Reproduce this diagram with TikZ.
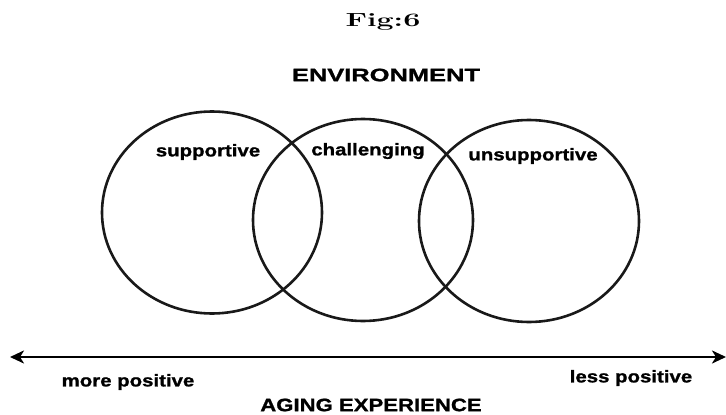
\documentclass[tikz,border=0pt]{standalone}
\usepackage{fontspec}
\usepackage{graphicx}
\usetikzlibrary{shapes.geometric,arrows.meta}
\newfontfamily\lblfont[FakeStretch=1.2,FakeBold=1.2]{Liberation Sans}
\newfontfamily\capfont[FakeStretch=1.23,FakeBold=1.2]{Liberation Sans}
\begin{document}
\begin{tikzpicture}[x=1pt,y=-1pt,
  ring/.style={draw=black!90,line width=2.6pt,ellipse,minimum width=220pt,minimum height=202pt,inner sep=0pt},
  lbl/.style={font=\lblfont\bfseries\fontsize{17}{20}\selectfont,inner sep=0pt,text=black},
  captxt/.style={font=\capfont\bfseries\fontsize{18}{21}\selectfont,inner sep=0pt,text=black},
  axis/.style={line width=2.6pt,{Stealth[length=14pt,width=13pt,inset=4pt]}-{Stealth[length=14pt,width=13pt,inset=4pt]}}]
\useasboundingbox (0,0) rectangle (726,415);
\node[inner sep=0pt] (fig) at (383,22) {\scalebox{1.6}[1]{\fontsize{19}{22}\selectfont\bfseries Fig:6}};
\node[inner sep=0pt] (env) at (386,75) {\scalebox{1.15}[1]{\capfont\bfseries\fontsize{18}{21}\selectfont ENVIRONMENT}};
\node[ring] (c1) at (212,212.5) {};
\node[ring] (c2) at (363,220) {};
\node[ring] (c3) at (529,221) {};
\node[lbl] (s) at (208,152) {supportive};
\node[lbl] (ch) at (368,151) {challenging};
\node[lbl] (u) at (533,156) {unsupportive};
\coordinate (L) at (10,357);
\coordinate (R) at (726,357);
\draw[axis] (L) -- (R);
\node[lbl] (mp) at (128,382) {more positive};
\node[lbl] (lp) at (631,378) {less positive};
\node[captxt] (age) at (371,405) {AGING EXPERIENCE};
\end{tikzpicture}
\end{document}
